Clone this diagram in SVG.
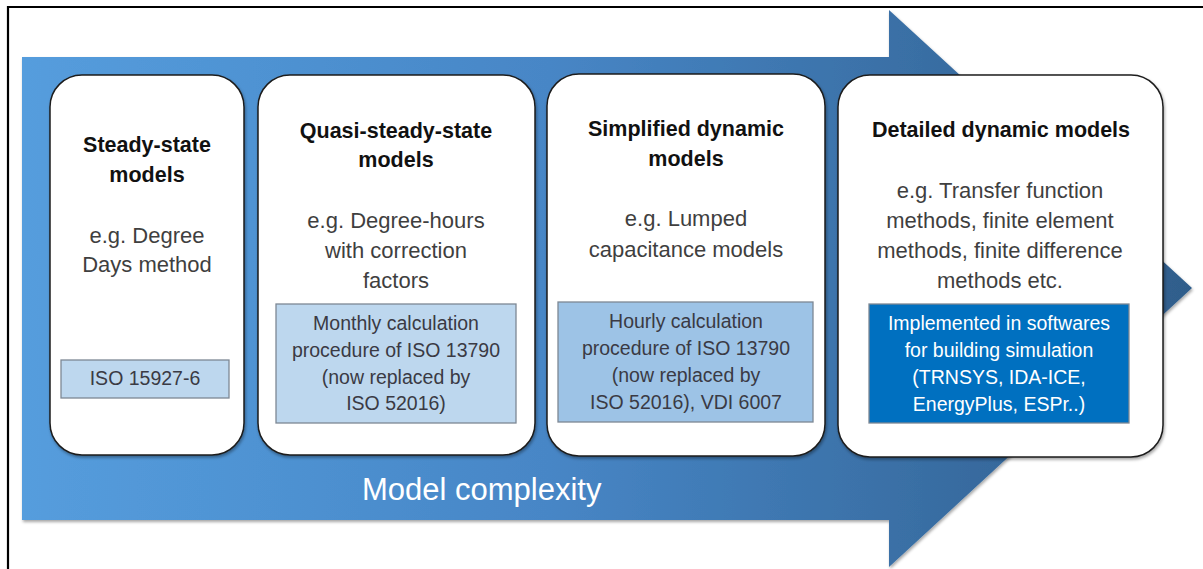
<svg xmlns="http://www.w3.org/2000/svg" width="1203" height="569" viewBox="0 0 1203 569">
  <defs>
    <linearGradient id="arrowGrad" x1="22" y1="0" x2="1192" y2="0" gradientUnits="userSpaceOnUse">
      <stop offset="0" stop-color="#559ddd"/>
      <stop offset="0.45" stop-color="#4786c6"/>
      <stop offset="1" stop-color="#2f5d8b"/>
    </linearGradient>
    <filter id="shadow" x="-10%" y="-10%" width="120%" height="120%">
      <feDropShadow dx="1" dy="2" stdDeviation="1.5" flood-color="#000" flood-opacity="0.35"/>
    </filter>
  </defs>
  <style>
    .card { fill: #ffffff; stroke: #1e1e1e; stroke-width: 1.5; }
    .head { font-family: "Liberation Sans", Arial, sans-serif; font-weight: bold; font-size: 21.5px; fill: #111111; text-anchor: middle; }
    .body { font-family: "Liberation Sans", Arial, sans-serif; font-size: 22px; fill: #3f3f3f; text-anchor: middle; }
    .box { stroke: #7d8894; stroke-width: 1.3; }
    .boxtxt { font-family: "Liberation Sans", Arial, sans-serif; font-size: 19.5px; fill: #3a3a44; text-anchor: middle; }
    .boxtxtw { font-family: "Liberation Sans", Arial, sans-serif; font-size: 19.5px; fill: #ffffff; text-anchor: middle; }
  </style>
  <rect x="0" y="0" width="1203" height="569" fill="#ffffff"/>
  <path d="M 8 569 V 7 H 1203" fill="none" stroke="#000000" stroke-width="2.2"/>

  <g id="arrow">
    <polygon points="22,57 889,57 889,10 1192,288 889,567 889,520 22,520" fill="url(#arrowGrad)" filter="url(#shadow)"/>
    <text x="362" y="500" font-family="Liberation Sans, Arial, sans-serif" font-size="31" fill="#ffffff">Model complexity</text>
  </g>

  <g id="connectors"></g>

  <g id="steady-state">
    <rect class="card" x="50" y="75" width="194" height="380" rx="32" ry="32" filter="url(#shadow)"/>
    <text class="head" x="147" y="152">Steady-state</text>
    <text class="head" x="147" y="182">models</text>
    <text class="body" x="147" y="243">e.g. Degree</text>
    <text class="body" x="147" y="272">Days method</text>
    <rect class="box" x="61" y="360" width="168" height="38" fill="#bdd7ee"/>
    <text class="boxtxt" x="145" y="385">ISO 15927-6</text>
  </g>

  <g id="quasi-steady-state">
    <rect class="card" x="258" y="75" width="277" height="380" rx="32" ry="32" filter="url(#shadow)"/>
    <text class="head" x="396" y="138">Quasi-steady-state</text>
    <text class="head" x="396" y="167">models</text>
    <text class="body" x="396" y="228">e.g. Degree-hours</text>
    <text class="body" x="396" y="258">with correction</text>
    <text class="body" x="396" y="288">factors</text>
    <rect class="box" x="276" y="304" width="240" height="119" fill="#bdd7ee"/>
    <text class="boxtxt" x="396" y="330">Monthly calculation</text>
    <text class="boxtxt" x="396" y="357">procedure of ISO 13790</text>
    <text class="boxtxt" x="396" y="384">(now replaced by</text>
    <text class="boxtxt" x="396" y="410">ISO 52016)</text>
  </g>

  <g id="simplified-dynamic">
    <rect class="card" x="547" y="74" width="278" height="382" rx="32" ry="32" filter="url(#shadow)"/>
    <text class="head" x="686" y="136">Simplified dynamic</text>
    <text class="head" x="686" y="166">models</text>
    <text class="body" x="686" y="226">e.g. Lumped</text>
    <text class="body" x="686" y="257">capacitance models</text>
    <rect class="box" x="558" y="302" width="255" height="120" fill="#9dc3e6"/>
    <text class="boxtxt" x="686" y="328">Hourly calculation</text>
    <text class="boxtxt" x="686" y="355">procedure of ISO 13790</text>
    <text class="boxtxt" x="686" y="382">(now replaced by</text>
    <text class="boxtxt" x="686" y="409">ISO 52016), VDI 6007</text>
  </g>

  <g id="detailed-dynamic">
    <rect class="card" x="838" y="75" width="325" height="382" rx="32" ry="32" filter="url(#shadow)"/>
    <text class="head" x="1001" y="137">Detailed dynamic models</text>
    <text class="body" x="1000" y="198">e.g. Transfer function</text>
    <text class="body" x="1000" y="228">methods, finite element</text>
    <text class="body" x="1000" y="258">methods, finite difference</text>
    <text class="body" x="1000" y="288">methods etc.</text>
    <rect class="box" x="869" y="304" width="260" height="119" fill="#0070c0" stroke="#2b4f70"/>
    <text class="boxtxtw" x="999" y="330">Implemented in softwares</text>
    <text class="boxtxtw" x="999" y="357">for building simulation</text>
    <text class="boxtxtw" x="999" y="384">(TRNSYS, IDA-ICE,</text>
    <text class="boxtxtw" x="999" y="411">EnergyPlus, ESPr..)</text>
  </g>
</svg>
